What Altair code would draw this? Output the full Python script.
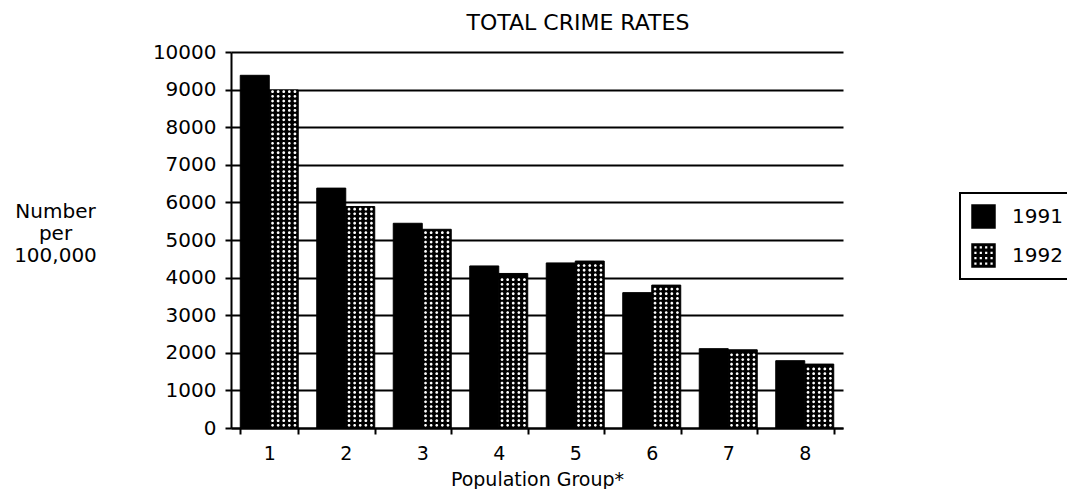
import altair as alt
import pandas as pd

# ---- data ----
groups = ["1", "2", "3", "4", "5", "6", "7", "8"]
years = ["1991", "1992"]
rate_1991 = [9380, 6380, 5445, 4310, 4390, 3600, 2110, 1790]
rate_1992 = [8990, 5890, 5285, 4110, 4440, 3800, 2080, 1700]
y_ticks = list(range(0, 10001, 1000))

rows = []
for g, a, b in zip(groups, rate_1991, rate_1992):
    rows.append({"group": g, "year": "1991", "rate": a})
    rows.append({"group": g, "year": "1992", "rate": b})
df = pd.DataFrame(rows)

FONT = "DejaVu Sans"


# ---- pattern shapes (style only) ----
def hole(cx, cy, h):
    # counter-clockwise small square -> hole under nonzero fill rule
    return f"M{cx-h:.3f},{cy-h:.3f}V{cy+h:.3f}H{cx+h:.3f}V{cy-h:.3f}Z"


def dot(cx, cy, r):
    return f"M{cx-r:.3f},{cy:.3f}a{r:.3f},{r:.3f} 0 1,0 {2*r:.3f},0a{r:.3f},{r:.3f} 0 1,0 {-2*r:.3f},0Z"


dot_row_path = "".join(dot(x, 0, 0.1) for x in [-0.8, -0.4, 0.0, 0.4, 0.8])
centers = [-0.66, -0.22, 0.22, 0.66]
dotted_square = "M-1,-1H1V1H-1Z" + "".join(hole(x, y, 0.09) for x in centers for y in centers)

x_axis = alt.Axis(
    title="Population Group*",
    labelAngle=0,
    labelFontSize=19,
    tickBand="extent",
    labelPadding=10,
    titleFontSize=19,
    titleY=57,
    titleBaseline="alphabetic",
)
y_axis = alt.Axis(
    values=y_ticks,
    format="d",
    grid=True,
    labelPadding=9,
    title=["Number", "per", "100,000"],
    titleAngle=0,
    titleAlign="center",
    titleBaseline="alphabetic",
    titleX=-176,
    titleY=165,
    titleLineHeight=22,
)
x_scale = alt.Scale(paddingInner=0.242, paddingOuter=0.121)
y_scale = alt.Scale(domain=[0, 10000], nice=False)


def x_enc():
    return alt.X("group:N", sort=groups, scale=x_scale, axis=x_axis)


def y_enc(field):
    return alt.Y(field, scale=y_scale, axis=y_axis)


xoff_enc = alt.XOffset("year:N", sort=years)

bars = alt.Chart(df).mark_bar(stroke="black", strokeWidth=1, fill="black").encode(
    x=x_enc(),
    xOffset=xoff_enc,
    y=y_enc("rate:Q"),
)

dots = (
    alt.Chart(df)
    .transform_filter(alt.datum.year == "1992")
    .transform_calculate(ys="sequence(70, datum.rate - 40, 125)")
    .transform_flatten(["ys"])
    .mark_point(shape=dot_row_path, filled=True, color="white", size=784, opacity=1, strokeWidth=0)
    .encode(
        x=x_enc(),
        xOffset=xoff_enc,
        y=y_enc("ys:Q"),
    )
)

legend = alt.Legend(title=None, orient="none", legendX=729, legendY=141)

# invisible points (size 0) that only carry the legend for the two years
legend_layer = alt.Chart(df).mark_point(size=0, opacity=1, filled=True, strokeWidth=0).encode(
    x=x_enc(),
    xOffset=xoff_enc,
    y=y_enc("rate:Q"),
    fill=alt.Fill("year:N", sort=years, scale=alt.Scale(domain=years, range=["black", "black"]), legend=legend),
    shape=alt.Shape("year:N", sort=years, scale=alt.Scale(domain=years, range=["square", dotted_square]), legend=legend),
)

chart = (
    alt.layer(bars, dots, legend_layer)
    .properties(
        width=612,
        height=376,
        padding={"left": 223, "top": 44, "right": 224, "bottom": 61},
        autosize=alt.AutoSizeParams(type="none"),
        title=alt.TitleParams(
            "TOTAL CRIME RATES",
            font=FONT,
            fontSize=22,
            fontWeight="normal",
            color="black",
            anchor="middle",
            offset=7,
            dx=41,
        ),
    )
    .configure(font=FONT, background="white")
    .configure_view(stroke=None)
    .configure_axis(
        labelFont=FONT,
        labelFontSize=20,
        labelColor="black",
        titleFont=FONT,
        titleFontSize=20,
        titleFontWeight="normal",
        titleColor="black",
        domainColor="black",
        domainWidth=2,
        tickColor="black",
        tickWidth=2,
        tickSize=6,
        gridColor="black",
        gridWidth=2,
        gridOpacity=1,
    )
    .configure_axisX(grid=False)
    .configure_legend(
        strokeColor="black",
        strokeWidth=2,
        padding=11,
        labelFont=FONT,
        labelFontSize=20,
        labelColor="black",
        labelOffset=16,
        symbolSize=600,
        symbolStrokeWidth=0,
        rowPadding=14,
    )
)

chart.save("out.html", embed_options={"renderer": "svg", "actions": False})
